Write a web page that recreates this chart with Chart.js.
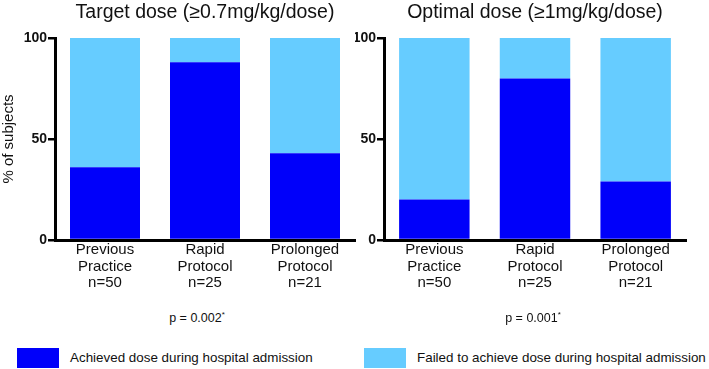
<!DOCTYPE html>
<html>
<head>
<meta charset="utf-8">
<script src="https://cdn.jsdelivr.net/npm/chart.js@4/dist/chart.umd.min.js"></script>
<style>
  body { margin: 0; background: #fff; font-family: "Liberation Sans", Arial, sans-serif; }
  #wrap { position: relative; width: 709px; height: 369px; overflow: hidden; }
  canvas { position: absolute; top: 0; }
  .title { position: absolute; top: 0; font-size: 19.5px; color: #111; white-space: nowrap; transform: translateX(-50%); }
  .pval { position: absolute; top: 310px; font-size: 12.5px; color: #111; white-space: nowrap; transform: translateX(-50%); font-family: "Liberation Sans Narrow", "Liberation Sans", sans-serif; }
  .pval sup { font-size: 8px; }
  .box { position: absolute; top: 348px; width: 42px; height: 20px; }
  .leg { position: absolute; top: 350px; font-size: 13.4px; color: #111; white-space: nowrap; }
</style>
</head>
<body>
<div id="wrap">
  <canvas id="leftChart" width="360" height="300" style="left:0;width:360px;height:300px"></canvas>
  <canvas id="rightChart" width="354" height="300" style="left:355px;width:354px;height:300px"></canvas>
  <div class="title" style="left:205px">Target dose (≥0.7mg/kg/dose)</div>
  <div class="title" style="left:535px">Optimal dose (≥1mg/kg/dose)</div>
  <div class="pval" style="left:197px">p = 0.002<sup>*</sup></div>
  <div class="pval" style="left:533px">p = 0.001<sup>*</sup></div>
  <div class="box" style="left:17px;background:#0000FA"></div>
  <div class="leg" style="left:70px">Achieved dose during hospital admission</div>
  <div class="box" style="left:364px;background:#66CCFF"></div>
  <div class="leg" style="left:417px">Failed to achieve dose during hospital admission</div>
</div>
<script>
const categories = [
  ['Previous', 'Practice', 'n=50'],
  ['Rapid', 'Protocol', 'n=25'],
  ['Prolonged', 'Protocol', 'n=21']
];
const targetAchieved = [36, 88, 43];
const targetFailed = [64, 12, 57];
const optimalAchieved = [20, 80, 29];
const optimalFailed = [80, 20, 71];
const yTicks = [0, 50, 100];

const darkBlue = '#0000FA';
const lightBlue = '#66CCFF';

function makeChart(id, achieved, failed, axisWidth, padRight, showYTitle) {
  const ctx = document.getElementById(id).getContext('2d');
  return new Chart(ctx, {
    type: 'bar',
    data: {
      labels: categories,
      datasets: [
        { label: 'Achieved dose during hospital admission', data: achieved, backgroundColor: darkBlue },
        { label: 'Failed to achieve dose during hospital admission', data: failed, backgroundColor: lightBlue }
      ]
    },
    options: {
      responsive: false,
      animation: false,
      layout: { padding: { top: 38, right: padRight, left: 0, bottom: 0 } },
      plugins: { legend: { display: false }, tooltip: { enabled: false } },
      datasets: { bar: { barPercentage: 0.7, categoryPercentage: 1 } },
      scales: {
        x: {
          stacked: true,
          grid: { display: false, drawTicks: false },
          border: { display: true, color: '#000', width: 3 },
          ticks: {
            color: '#111',
            font: { family: 'Liberation Sans', size: 15, lineHeight: 1.1 },
            padding: 2,
            maxRotation: 0
          },
          afterFit: s => { s.height = 60; }
        },
        y: {
          stacked: true,
          min: 0,
          max: 100,
          afterBuildTicks: s => { s.ticks = yTicks.map(v => ({ value: v })); },
          grid: { drawOnChartArea: false, drawTicks: true, tickLength: 7, color: '#000', lineWidth: 2.5 },
          border: { display: true, color: '#000', width: 3 },
          ticks: {
            color: '#111',
            font: { family: 'Liberation Sans', size: 14, weight: 'bold' },
            padding: 1
          },
          title: {
            display: showYTitle,
            text: '% of subjects',
            color: '#111',
            font: { family: 'Liberation Sans', size: 15 },
            padding: 0
          },
          afterFit: s => { s.width = axisWidth; }
        }
      }
    }
  });
}

makeChart('leftChart', targetAchieved, targetFailed, 55, 5, true);
makeChart('rightChart', optimalAchieved, optimalFailed, 29, 23, false);
</script>
</body>
</html>
